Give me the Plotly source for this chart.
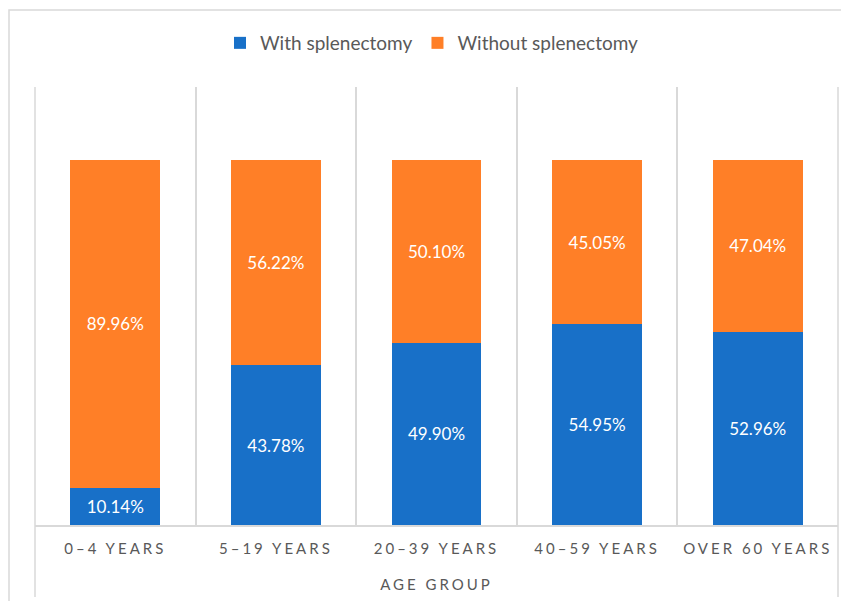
import plotly.graph_objects as go

categories = ["0–4 YEARS", "5–19 YEARS", "20–39 YEARS", "40–59 YEARS", "OVER 60 YEARS"]
with_splenectomy = [10.14, 43.78, 49.90, 54.95, 52.96]
without_splenectomy = [89.96, 56.22, 50.10, 45.05, 47.04]
series_names = ["With splenectomy", "Without splenectomy"]
axis_title = "AGE GROUP"

BLUE = "#1870C8"
ORANGE = "#FF7F27"
GREY_TXT = "#595959"
LINE = "#D9D9D9"
FONT = "Lato, Carlito, 'Open Sans', sans-serif"

# page body has an 8px margin; size the figure so it fills the 849x601 window
W, H = 841, 593
L, R, T, B = 27, 11, 79, 76
PW, PH = W - L - R, H - T - B

def spaced(t, px=3):
    return f'<span style="letter-spacing:{px}px">{t}</span>'

fig = go.Figure()
for name, vals, col in [(series_names[0], with_splenectomy, BLUE),
                        (series_names[1], without_splenectomy, ORANGE)]:
    fig.add_trace(go.Bar(
        x=categories, y=vals, name=name, marker=dict(color=col, line=dict(width=0)),
        text=[f"{v:.2f}%" for v in vals], textposition="inside",
        insidetextanchor="middle", textangle=0,
        textfont=dict(color="white", size=17, family=FONT),
        width=0.56,
    ))

fig.update_layout(
    barmode="stack",
    width=W, height=H,
    margin=dict(l=L, r=R, t=T, b=B, autoexpand=False),
    paper_bgcolor="white", plot_bgcolor="white",
    font=dict(family=FONT, color=GREY_TXT),
    showlegend=True,
    legend=dict(orientation="h", x=(432 - 35) / PW, xanchor="center", y=(H - 35) / H, yref="container",
                yanchor="middle", font=dict(size=19, color=GREY_TXT), itemwidth=30,
                traceorder="normal"),
    xaxis=dict(
        type="category", tickson="boundaries", showgrid=True, gridcolor=LINE, gridwidth=1.5,
        showline=True, linecolor=LINE, linewidth=1.5, ticks="",
        tickvals=categories, ticktext=[spaced(c) for c in categories],
        tickfont=dict(size=15, color=GREY_TXT), ticklabelstandoff=9,
        title=dict(text=spaced(axis_title, 3), font=dict(size=15, color=GREY_TXT), standoff=24),
        range=[-0.5, 4.5], fixedrange=True,
    ),
    yaxis=dict(range=[0, 120], visible=False, showgrid=False),
    uniformtext=dict(mode="show", minsize=10),
)

# chart border
fig.add_shape(type="rect", xref="paper", yref="paper",
              x0=(1 - L) / PW, x1=(840 - L) / PW, y0=-0.5, y1=1 + (T - 2) / PH,
              line=dict(color=LINE, width=1.5), layer="below")
# outer vertical lines extending below axis
for xv in [0, 1]:
    fig.add_shape(type="line", xref="paper", yref="paper", x0=xv, x1=xv,
                  y0=-(597 - 525) / PH, y1=1, line=dict(color=LINE, width=1.5))

fig.write_html("out.html")
